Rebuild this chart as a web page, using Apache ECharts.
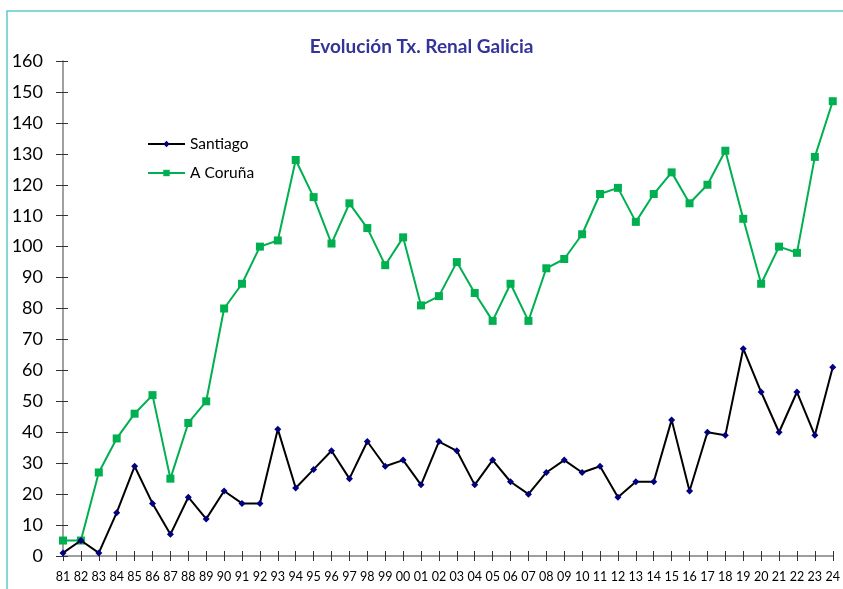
<!DOCTYPE html>
<html><head><meta charset="utf-8">
<script src="https://cdn.jsdelivr.net/npm/echarts@6/dist/echarts.min.js"></script>
<style>html,body{margin:0;padding:0;background:#fff}#c{width:843px;height:589px}</style>
</head><body><div id="c"></div>
<script>
const categories = ['81','82','83','84','85','86','87','88','89','90','91','92','93','94','95','96','97','98','99','00','01','02','03','04','05','06','07','08','09','10','11','12','13','14','15','16','17','18','19','20','21','22','23','24'];
const santiago = [1,5,1,14,29,17,7,19,12,21,17,17,41,22,28,34,25,37,29,31,23,37,34,23,31,24,20,27,31,27,29,19,24,24,44,21,40,39,67,53,40,53,39,61];
const coruna = [5,5,27,38,46,52,25,43,50,80,88,100,102,128,116,101,114,106,94,103,81,84,95,85,76,88,76,93,96,104,117,119,108,117,124,114,120,131,109,88,100,98,129,147];
const titleText = 'Evolución Tx. Renal Galicia';
const seriesNames = ['Santiago','A Coruña'];

const chart = echarts.init(document.getElementById('c'), null, {renderer:'canvas'});
const grid = {left:63, right:7, top:61, bottom:33, containLabel:false};
chart.setOption({
  animation:false,
  backgroundColor:'#fff',
  graphic:[{type:'rect', shape:{x:7,y:11,width:900,height:700}, style:{fill:'none', stroke:'#62caca', lineWidth:1.5}, silent:true, z:-1}],
  title:{text:titleText, left:'center', top:32, textStyle:{fontFamily:'Lato', fontWeight:'bold', fontSize:19, color:'#333399'}},
  legend:{orient:'vertical', left:142, top:131, itemWidth:37, itemHeight:8, itemGap:13,
    textStyle:{fontFamily:'Lato', fontSize:15.5, color:'#000'}, data:seriesNames},
  grid: grid,
  xAxis:[{type:'category', data:categories, boundaryGap:false,
    axisLine:{lineStyle:{color:'#808080', width:1.5}},
    axisTick:{alignWithLabel:true, length:5, lineStyle:{color:'#333', width:1}},
    axisLabel:{fontFamily:'Lato', fontSize:12.5, color:'#000', margin:14, interval:0}},
    {type:'category', data:categories, boundaryGap:false, position:'bottom',
    axisLine:{show:false}, axisTick:{inside:true, length:5, lineStyle:{color:'#333', width:1}}, axisLabel:{show:false}}],
  yAxis:[{type:'value', min:0, max:160, interval:10,
    axisLine:{show:true, lineStyle:{color:'#808080', width:1.5}},
    axisTick:{show:true, length:7, lineStyle:{color:'#333', width:1}},
    splitLine:{show:false},
    axisLabel:{fontFamily:'Lato', fontSize:18, color:'#000', margin:20}},
    {type:'value', min:0, max:160, interval:10, position:'left',
    axisLine:{show:false}, axisTick:{show:true, inside:true, length:5, lineStyle:{color:'#333', width:1}},
    splitLine:{show:false}, axisLabel:{show:false}}],
  series:[
    {name:seriesNames[0], type:'line', data:santiago, symbol:'diamond', symbolSize:7,
      lineStyle:{color:'#000', width:2}, itemStyle:{color:'#000080', borderWidth:0}, z:3},
    {name:seriesNames[1], type:'line', data:coruna, symbol:'rect', symbolSize:8,
      lineStyle:{color:'#00b050', width:2}, itemStyle:{color:'#00b050', borderWidth:0}, z:2}
  ]
});
</script></body></html>
